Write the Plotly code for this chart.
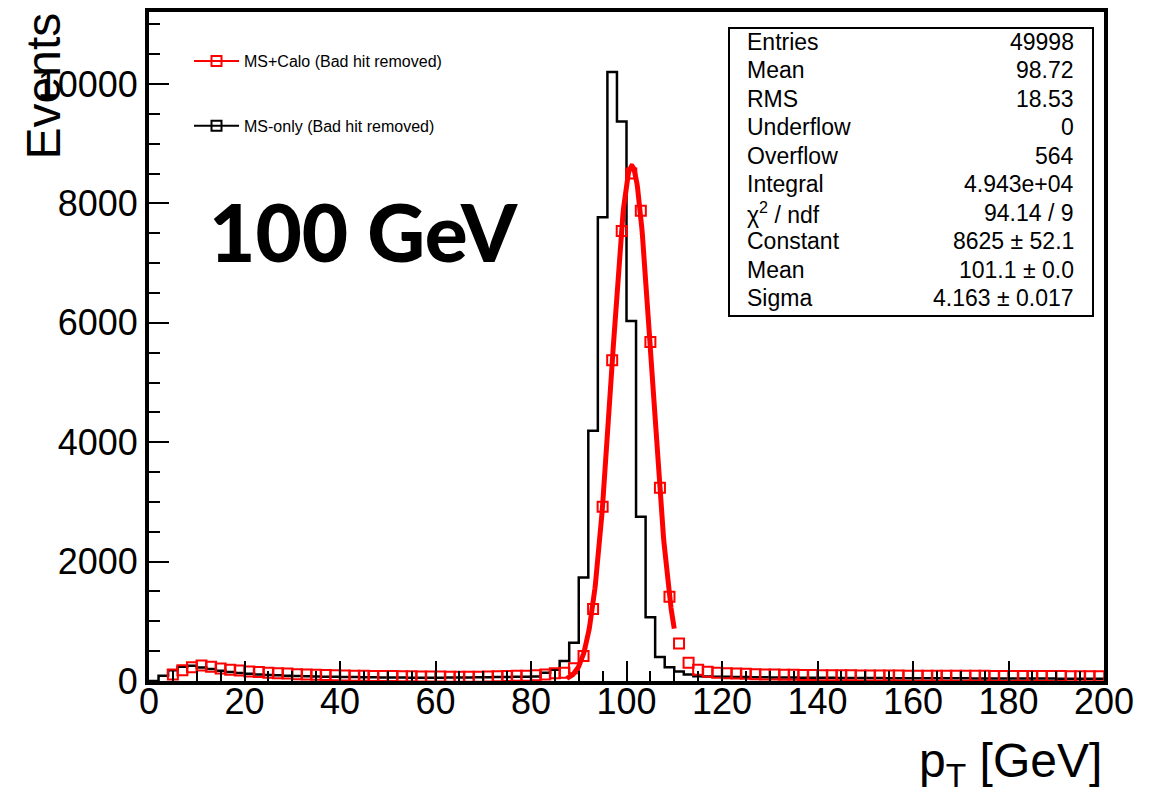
import numpy as np
import plotly.graph_objects as go

# ---------------- data ----------------
bin_edges = np.arange(0, 202, 2)            # 100 bins of 2 GeV, 0..200
bin_centers = bin_edges[:-1] + 1

# MS-only (black histogram), one value per 2-GeV bin
ms_only = [
    0, 90, 180, 240, 255, 225, 200, 170, 150, 135,          # 0-20
    120, 110, 100, 95, 90, 85, 80, 75, 72, 70,              # 20-40
    68, 66, 64, 62, 60, 58, 57, 56, 55, 55,                 # 40-60
    56, 57, 58, 60, 62, 64, 66, 68, 70, 72,                 # 60-80
    75, 140, 190, 335, 640, 1735, 4190, 7766, 10200, 9370,  # 80-100
    6030, 2750, 1066, 400, 230, 160, 110, 80, 75, 72,       # 100-120
    70, 68, 66, 64, 62, 60, 58, 57, 56, 55,                 # 120-140
    54, 53, 52, 51, 50, 50, 49, 48, 48, 47,                 # 140-160
    46, 46, 45, 45, 44, 44, 43, 43, 42, 42,                 # 160-180
    41, 41, 40, 40, 40, 39, 39, 38, 38, 38,                 # 180-200
]

# MS+Calo (red markers), one value per bin centre (None = empty bin)
ms_calo = [
    None, None, 110, 180, 230, 260, 240, 210, 190, 175,     # 1-19
    160, 150, 140, 130, 125, 115, 110, 105, 100, 95,        # 21-39
    92, 90, 88, 85, 83, 82, 80, 78, 76, 75,                 # 41-59
    74, 73, 72, 72, 73, 75, 78, 82, 86, 90,                 # 61-79
    95, 110, 130, 140, 212, 418, 1205, 2917, 5372, 7537,    # 81-99
    8500, 7878, 5680, 3235, 1411, 630, 307, 190, 155, 140,  # 101-119
    130, 125, 120, 115, 110, 108, 105, 103, 100, 99,        # 121-139
    98, 97, 96, 95, 94, 93, 93, 92, 91, 90,                 # 141-159
    90, 89, 88, 88, 87, 87, 86, 86, 85, 85,                 # 161-179
    84, 84, 83, 83, 82, 82, 81, 81, 80, 80,                 # 181-199
]

# Gaussian fit parameters (from stat box)
fit_constant = 8625.0
fit_mean = 101.1
fit_sigma = 4.163
fit_range = (87.5, 110.0)

stats_labels = ["Entries", "Mean", "RMS", "Underflow", "Overflow", "Integral",
                "χ<sup>2</sup> / ndf", "Constant", "Mean", "Sigma"]
stats_values = ["49998", "98.72", "18.53", "0", "564", "4.943e+04",
                "94.14 / 9", "8625 ± 52.1", "101.1 ± 0.0", "4.163 ± 0.017"]

legend_names = ["MS+Calo (Bad hit removed)", "MS-only (Bad hit removed)"]
energy_label = "100 GeV"

x_ticks = list(range(0, 201, 20))
y_ticks = list(range(0, 10001, 2000))

# ---------------- figure geometry (page pixels) ----------------
OFF = 8                      # default body margin of the html page
W, H = 1141, 786
PL, PR, PT, PB = 149, 1104, 12, 681      # plot-area edges on the page
L, T = PL - OFF, PT - OFF
R = OFF + W - PR
B = OFF + H - PB
pw, ph = PR - PL, PB - PT

def px_x(p):
    return (p - PL) / pw

def px_y(p):
    return (PB - p) / ph

fig = go.Figure()

# black histogram (step)
fig.add_trace(go.Scatter(
    x=list(bin_edges), y=ms_only + [ms_only[-1]],
    mode="lines", line=dict(color="black", width=2.5, shape="hv"),
    showlegend=False, hoverinfo="skip"))

# red markers
fig.add_trace(go.Scatter(
    x=list(bin_centers), y=ms_calo, mode="markers",
    marker=dict(symbol="square-open", color="red", size=10, line=dict(width=2, color="red")),
    showlegend=False))

# gaussian fit line
fx = np.linspace(fit_range[0], fit_range[1], 200)
fy = fit_constant * np.exp(-0.5 * ((fx - fit_mean) / fit_sigma) ** 2)
fig.add_trace(go.Scatter(x=fx, y=fy, mode="lines",
                         line=dict(color="red", width=5), showlegend=False))

# legend entries
for name, col, grp in zip(legend_names, ["red", "black"], ["a", "b"]):
    fig.add_trace(go.Scatter(
        x=[None], y=[None], mode="lines+markers", name=name, legendgroup=grp,
        line=dict(color=col, width=2),
        marker=dict(symbol="square-open", color=col, size=10, line=dict(width=2, color=col))))

axis_common = dict(
    showline=True, linewidth=4, linecolor="black", mirror=True,
    ticks="inside", ticklen=20, tickwidth=2, tickcolor="black",
    showgrid=False, zeroline=False,
    tickfont=dict(family="Liberation Sans", size=36, color="black"),
)

fig.update_xaxes(range=[0, 200], tickvals=x_ticks,
                 minor=dict(dtick=5, ticks="inside", ticklen=10, tickwidth=2, tickcolor="black", showgrid=False),
                 ticklabelstandoff=-14, **axis_common)
fig.update_yaxes(range=[0, 11206], tickvals=y_ticks, tickformat="d",
                 minor=dict(dtick=500, ticks="inside", ticklen=11, tickwidth=2, tickcolor="black", showgrid=False),
                 ticklabelstandoff=0, **axis_common)

annotations = []
# axis titles
annotations.append(dict(text="Events", textangle=-90, xref="paper", yref="paper",
                        x=px_x(43), y=px_y(11), xanchor="center", yanchor="top", showarrow=False,
                        font=dict(family="Liberation Sans", size=48, color="black")))
annotations.append(dict(text="p<sub>T</sub> [GeV]", xref="paper", yref="paper",
                        x=1.0, y=px_y(764), xanchor="right", yanchor="middle", showarrow=False,
                        font=dict(family="Liberation Sans", size=48, color="black")))
# energy label
annotations.append(dict(text=energy_label, xref="paper", yref="paper",
                        x=px_x(363), y=px_y(231), xanchor="center", yanchor="middle", showarrow=False,
                        font=dict(family="Lato", size=80, color="black", weight=900)))

# stats box
box_x0, box_x1, box_y0, box_y1 = 729, 1093, 28, 316
row_top, row_bot = 42, 298
n = len(stats_labels)
for i, (lab, val) in enumerate(zip(stats_labels, stats_values)):
    yc = row_top + (row_bot - row_top) * i / (n - 1)
    annotations.append(dict(text=lab, xref="paper", yref="paper", x=px_x(745), y=px_y(yc),
                            xanchor="left", yanchor="middle", showarrow=False,
                            font=dict(family="Liberation Sans", size=23, color="black")))
    annotations.append(dict(text=val, xref="paper", yref="paper", x=px_x(1076), y=px_y(yc),
                            xanchor="right", yanchor="middle", showarrow=False,
                            font=dict(family="Liberation Sans", size=23, color="black")))

fig.update_layout(
    width=W, height=H,
    margin=dict(l=L, r=R, t=T, b=B, autoexpand=False),
    paper_bgcolor="white", plot_bgcolor="white",
    font=dict(family="Liberation Sans", color="black"),
    annotations=annotations,
    shapes=[dict(type="rect", xref="paper", yref="paper",
                 x0=px_x(box_x0), x1=px_x(box_x1), y0=px_y(box_y1), y1=px_y(box_y0),
                 line=dict(color="black", width=2), fillcolor="white", layer="above")],
    legend=dict(x=px_x(189), y=px_y(44), xanchor="left", yanchor="top",
                bgcolor="rgba(0,0,0,0)", borderwidth=0, tracegroupgap=41,
                font=dict(family="Liberation Sans", size=16, color="black"),
                itemwidth=45),
    showlegend=True,
)

fig.write_html("out.html")
